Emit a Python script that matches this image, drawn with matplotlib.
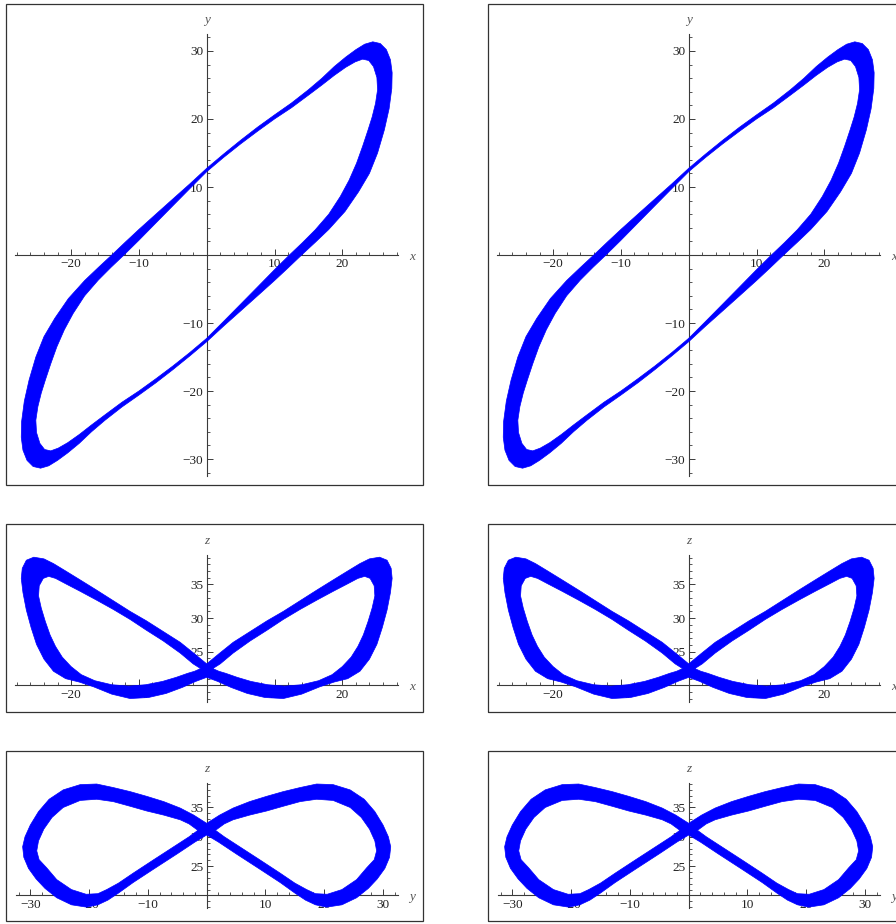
import matplotlib
matplotlib.use("Agg")
import matplotlib.pyplot as plt
from matplotlib.path import Path
from matplotlib.patches import PathPatch, Rectangle
from matplotlib.ticker import FixedLocator, FixedFormatter, NullFormatter

plt.rcParams['font.family'] = ['Liberation Serif', 'DejaVu Serif']

BLUE = '#0000ff'

# ---------------- x-y projection: outline of the band (outer edge, inner edge)
xy_outer_x = [0.0, 2.5, 5.0, 7.5, 10.0, 12.5, 15.0, 17.0, 18.8, 20.5, 22.0, 23.3, 24.5, 25.6, 26.5, 27.1, 27.35, 27.3, 26.9, 26.2, 25.2, 24.0, 22.4, 20.4, 18.0, 16.0, 14.0, 12.0, 10.0, 7.5, 5.0, 2.5,
              0.0, -2.5, -5.0, -7.5, -10.0, -12.5, -15.0, -17.0, -18.8, -20.5, -22.0, -23.3, -24.5, -25.6, -26.5, -27.1, -27.35, -27.3, -26.9, -26.2, -25.2, -24.0, -22.4, -20.4, -18.0, -16.0, -14.0, -12.0, -10.0, -7.5, -5.0, -2.5]
xy_outer_y = [12.75, 14.85, 16.87, 18.8, 20.6, 22.35, 24.3, 26.0, 27.7, 29.1, 30.2, 31.0, 31.35, 31.1, 30.2, 28.7, 26.8, 24.5, 21.5, 18.4, 15.0, 12.0, 9.3, 6.4, 3.75, 1.85, 0.0, -1.9, -3.76, -6.0, -8.23, -10.45,
              -12.75, -14.85, -16.87, -18.8, -20.6, -22.35, -24.3, -26.0, -27.7, -29.1, -30.2, -31.0, -31.35, -31.1, -30.2, -28.7, -26.8, -24.5, -21.5, -18.4, -15.0, -12.0, -9.3, -6.4, -3.75, -1.85, 0.0, 1.9, 3.76, 6.0, 8.23, 10.45]
xy_inner_x = [0.0, 2.5, 5.0, 7.5, 10.0, 12.5, 15.0, 17.0, 18.8, 20.5, 21.9, 23.0, 23.9, 24.6, 25.1, 25.2, 24.9, 24.4, 23.8, 23.0, 22.1, 21.0, 19.7, 18.0, 16.0, 14.1, 12.2, 10.0, 7.5, 5.0, 2.5,
              0.0, -2.5, -5.0, -7.5, -10.0, -12.5, -15.0, -17.0, -18.8, -20.5, -21.9, -23.0, -23.9, -24.6, -25.1, -25.2, -24.9, -24.4, -23.8, -23.0, -22.1, -21.0, -19.7, -18.0, -16.0, -14.1, -12.2, -10.0, -7.5, -5.0, -2.5]
xy_inner_y = [12.25, 14.35, 16.33, 18.2, 20.0, 21.65, 23.5, 25.0, 26.4, 27.6, 28.4, 28.8, 28.6, 27.7, 26.1, 24.3, 22.3, 20.3, 18.4, 16.0, 13.5, 11.0, 8.6, 6.0, 3.7, 1.8, 0.0, -2.16, -4.7, -7.23, -9.75,
              -12.25, -14.35, -16.33, -18.2, -20.0, -21.65, -23.5, -25.0, -26.4, -27.6, -28.4, -28.8, -28.6, -27.7, -26.1, -24.3, -22.3, -20.3, -18.4, -16.0, -13.5, -11.0, -8.6, -6.0, -3.7, -1.8, 0.0, 2.16, 4.7, 7.23, 9.75]

# ---------------- x-z projection: outer outline and the two lobe holes
xz_outer_x = [0.0, 1.8, 3.9, 6.4, 8.9, 11.3, 13.8, 16.3, 18.7, 20.8, 22.6, 24.0, 25.5, 26.6, 27.2, 27.35, 27.1, 26.6, 25.9, 25.1, 24.0, 22.6, 20.8, 18.8, 16.7, 14.0, 11.3, 8.6, 6.0, 3.6, 1.6,
              0.0, -1.6, -3.6, -6.0, -8.6, -11.3, -14.0, -16.7, -18.8, -20.8, -22.6, -24.0, -25.1, -25.9, -26.6, -27.1, -27.35, -27.2, -26.6, -25.5, -24.0, -22.6, -20.8, -18.7, -16.3, -13.8, -11.3, -8.9, -6.4, -3.9, -1.8]
xz_outer_z = [23.2, 24.7, 26.4, 28.0, 29.6, 31.0, 32.6, 34.2, 35.7, 37.0, 38.1, 38.8, 39.05, 38.6, 37.4, 35.9, 33.8, 31.2, 28.6, 26.1, 23.9, 22.1, 21.0, 20.5, 19.8, 18.7, 18.05, 18.2, 18.8, 19.7, 20.6,
              21.2, 20.6, 19.7, 18.8, 18.2, 18.05, 18.7, 19.8, 20.5, 21.0, 22.1, 23.9, 26.1, 28.6, 31.2, 33.8, 35.9, 37.4, 38.6, 39.05, 38.8, 38.1, 37.0, 35.7, 34.2, 32.6, 31.0, 29.6, 28.0, 26.4, 24.7]
xz_hole_r_x = [0.9, 2.0, 3.9, 6.4, 8.9, 11.3, 13.8, 16.3, 18.7, 20.8, 22.3, 23.3, 24.1, 24.7, 24.8, 24.4, 23.8, 23.1, 22.3, 21.3, 20.0, 18.5, 16.5, 14.0, 11.5, 9.0, 6.5, 4.5, 2.8, 1.8]
xz_hole_r_z = [22.5, 23.2, 24.8, 26.6, 28.2, 29.8, 31.3, 32.7, 34.0, 35.1, 35.9, 36.2, 35.9, 34.8, 33.3, 31.5, 29.5, 27.5, 25.8, 24.2, 22.8, 21.6, 20.7, 20.1, 19.9, 20.1, 20.6, 21.2, 21.8, 22.1]
xz_hole_l_x = [-0.9, -2.0, -3.9, -6.4, -8.9, -11.3, -13.8, -16.3, -18.7, -20.8, -22.3, -23.3, -24.1, -24.7, -24.8, -24.4, -23.8, -23.1, -22.3, -21.3, -20.0, -18.5, -16.5, -14.0, -11.5, -9.0, -6.5, -4.5, -2.8, -1.8]
xz_hole_l_z = [22.5, 23.2, 24.8, 26.6, 28.2, 29.8, 31.3, 32.7, 34.0, 35.1, 35.9, 36.2, 35.9, 34.8, 33.3, 31.5, 29.5, 27.5, 25.8, 24.2, 22.8, 21.6, 20.7, 20.1, 19.9, 20.1, 20.6, 21.2, 21.8, 22.1]

# ---------------- y-z projection: outer outline and the two lobe holes
yz_outer_y = [0.0, 2.2, 4.5, 7.3, 10.2, 13.0, 15.9, 18.7, 21.5, 24.4, 26.8, 28.6, 30.0, 30.9, 31.3, 31.1, 30.3, 29.0, 27.5, 25.5, 23.0, 20.4, 18.5, 16.8, 15.0, 12.5, 9.0, 5.0, 2.0,
              0.0, -2.0, -5.0, -9.0, -12.5, -15.0, -16.8, -18.5, -20.4, -23.0, -25.5, -27.5, -29.0, -30.3, -31.1, -31.3, -30.9, -30.0, -28.6, -26.8, -24.4, -21.5, -18.7, -15.9, -13.0, -10.2, -7.3, -4.5, -2.2]
yz_outer_z = [32.3, 33.7, 34.9, 36.0, 36.9, 37.7, 38.4, 39.0, 38.9, 38.0, 36.4, 34.3, 32.0, 30.0, 28.3, 26.5, 24.6, 22.8, 21.2, 19.6, 18.4, 18.0, 18.4, 19.2, 20.4, 22.2, 24.5, 27.1, 29.1,
              30.3, 29.1, 27.1, 24.5, 22.2, 20.4, 19.2, 18.4, 18.0, 18.4, 19.6, 21.2, 22.8, 24.6, 26.5, 28.3, 30.0, 32.0, 34.3, 36.4, 38.0, 38.9, 39.0, 38.4, 37.7, 36.9, 36.0, 34.9, 33.7]
yz_hole_r_y = [1.5, 3.0, 4.5, 7.3, 10.2, 13.0, 15.9, 18.7, 21.5, 24.4, 26.3, 27.7, 28.6, 28.9, 28.5, 27.2, 25.5, 23.0, 20.5, 18.5, 17.0, 15.0, 12.5, 9.0, 5.0, 3.0]
yz_hole_r_z = [31.1, 32.2, 32.9, 33.7, 34.4, 35.2, 36.0, 36.4, 36.2, 35.0, 33.3, 31.3, 29.3, 27.6, 26.1, 24.7, 22.7, 21.0, 20.2, 20.3, 21.0, 22.1, 23.8, 26.1, 28.7, 30.0]
yz_hole_l_y = [-1.5, -3.0, -4.5, -7.3, -10.2, -13.0, -15.9, -18.7, -21.5, -24.4, -26.3, -27.7, -28.6, -28.9, -28.5, -27.2, -25.5, -23.0, -20.5, -18.5, -17.0, -15.0, -12.5, -9.0, -5.0, -3.0]
yz_hole_l_z = [31.1, 32.2, 32.9, 33.7, 34.4, 35.2, 36.0, 36.4, 36.2, 35.0, 33.3, 31.3, 29.3, 27.6, 26.1, 24.7, 22.7, 21.0, 20.2, 20.3, 21.0, 22.1, 23.8, 26.1, 28.7, 30.0]

# ---------------- axis ticks
h_major_28 = [-20, -10, 10, 20]
h_minor_28 = [-28, -26, -24, -22, -18, -16, -14, -12, -8, -6, -4, -2, 2, 4, 6, 8, 12, 14, 16, 18, 22, 24, 26, 28]
v_major_32 = [-30, -20, -10, 10, 20, 30]
v_minor_32 = [-32, -28, -26, -24, -22, -18, -16, -14, -12, -8, -6, -4, -2, 2, 4, 6, 8, 12, 14, 16, 18, 22, 24, 26, 28, 32]
z_major = [25, 30, 35]
z_minor = [18, 19, 20, 21, 22, 23, 24, 26, 27, 28, 29, 31, 32, 33, 34, 36, 37, 38, 39]


def ring(xs, ys, ccw):
    pts = list(zip(xs, ys))
    area = sum(x0 * y1 - x1 * y0 for (x0, y0), (x1, y1) in zip(pts, pts[1:] + pts[:1]))
    if (area > 0) != ccw:
        pts = pts[::-1]
    verts = pts + [pts[0]]
    codes = [Path.MOVETO] + [Path.LINETO] * (len(pts) - 1) + [Path.CLOSEPOLY]
    return verts, codes


def band(ax, outer, holes):
    verts, codes = ring(outer[0], outer[1], True)
    for hx, hy in holes:
        v, c = ring(hx, hy, False)
        verts += v
        codes += c
    ax.add_patch(PathPatch(Path(verts, codes), facecolor=BLUE, edgecolor=BLUE,
                           lw=0.5, zorder=3))


def style(ax, xlim, ylim, hpos, hb, vb, hmaj, hmin, vmaj, vmin, hname, vname, hname_at, vname_at):
    ax.set_xlim(*xlim)
    ax.set_ylim(*ylim)
    ax.patch.set_visible(False)
    for s in ('top', 'right'):
        ax.spines[s].set_visible(False)
    ax.spines['bottom'].set_position(('data', hpos))
    ax.spines['left'].set_position(('data', 0))
    ax.spines['bottom'].set_bounds(*hb)
    ax.spines['left'].set_bounds(*vb)
    for s in ('bottom', 'left'):
        ax.spines[s].set_color('#3a3a3a')
        ax.spines[s].set_linewidth(0.8)
        ax.spines[s].set_zorder(2)
    ax.xaxis.set_major_locator(FixedLocator(hmaj))
    ax.xaxis.set_minor_locator(FixedLocator(hmin))
    ax.yaxis.set_major_locator(FixedLocator(vmaj))
    ax.yaxis.set_minor_locator(FixedLocator(vmin))
    ax.xaxis.set_major_formatter(FixedFormatter([str(v).replace('-', '\u2212') for v in hmaj]))
    ax.yaxis.set_major_formatter(FixedFormatter([str(v).replace('-', '\u2212') for v in vmaj]))
    ax.xaxis.set_minor_formatter(NullFormatter())
    ax.yaxis.set_minor_formatter(NullFormatter())
    ax.tick_params(which='major', direction='in', length=4.0, width=0.7, color='#3a3a3a',
                   labelsize=9.5, labelcolor='#222222', pad=2.5)
    ax.tick_params(which='minor', direction='in', length=2.2, width=0.6, color='#3a3a3a')
    ax.xaxis.set_zorder(2)
    ax.yaxis.set_zorder(2)
    ax.add_patch(Rectangle((0, 0), 1, 1, transform=ax.transAxes, fill=False,
                           ec='#333333', lw=0.9, clip_on=False, zorder=5))
    ax.text(hname_at[0], hname_at[1], hname, style='italic', fontsize=9.5, color='#555555',
            ha='center', va='center')
    ax.text(vname_at[0], vname_at[1], vname, style='italic', fontsize=9.5, color='#555555',
            ha='center', va='center')


W, H = 896, 924
fig = plt.figure(figsize=(W / 100, H / 100), dpi=100)
fig.patch.set_facecolor('white')

for left in (6, 488):
    # x-y
    ax = fig.add_axes([left / W, (H - 485) / H, 417 / W, 481 / H])
    band(ax, (xy_outer_x, xy_outer_y), [(xy_inner_x, xy_inner_y)])
    style(ax, (-29.60, 31.90), (-33.82, 36.91), 0, (-28.2, 28.2), (-32.5, 32.5),
          h_major_28, h_minor_28, v_major_32, v_minor_32, 'x', 'y', (30.3, -0.3), (0, 34.6))
    # x-z
    ax = fig.add_axes([left / W, (H - 712) / H, 417 / W, 188 / H])
    band(ax, (xz_outer_x, xz_outer_z), [(xz_hole_r_x, xz_hole_r_z), (xz_hole_l_x, xz_hole_l_z)])
    style(ax, (-29.60, 31.90), (16.05, 43.98), 20, (-28.2, 28.2), (17.6, 39.4),
          h_major_28, h_minor_28, z_major, z_minor, 'x', 'z', (30.3, 19.8), (0, 41.5))
    # y-z
    ax = fig.add_axes([left / W, (H - 921) / H, 417 / W, 170 / H])
    band(ax, (yz_outer_y, yz_outer_z), [(yz_hole_r_y, yz_hole_r_z), (yz_hole_l_y, yz_hole_l_z)])
    style(ax, (-34.13, 36.79), (15.64, 44.63), 20, (-32.5, 32.5), (17.8, 39.1),
          v_major_32, v_minor_32, z_major, z_minor, 'y', 'z', (34.9, 19.8), (0, 41.6))

fig.savefig('out.png', dpi=100, facecolor='white')
